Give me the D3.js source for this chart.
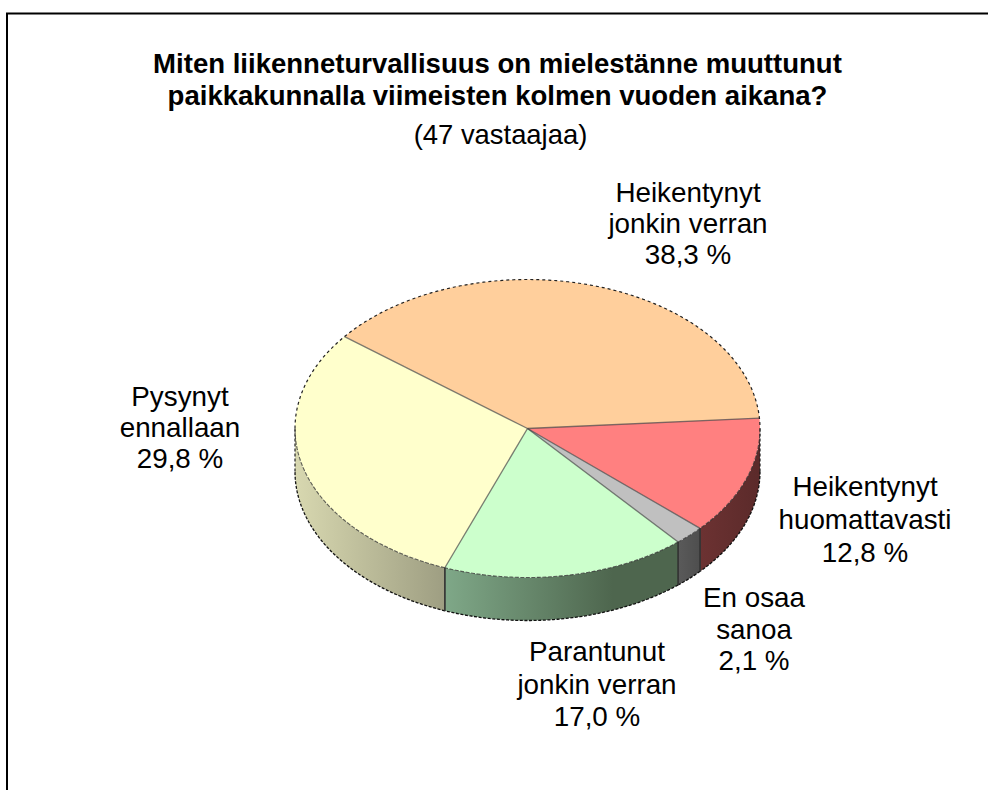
<!DOCTYPE html>
<html><head><meta charset="utf-8">
<script src="https://cdn.jsdelivr.net/npm/d3@7"></script>
<style>html,body{margin:0;padding:0;background:#fff}svg{display:block}text{font-family:"Liberation Sans",Arial,sans-serif;fill:#000}</style>
</head><body><div id="c"></div>
<script>
const categories = ["Heikentynyt jonkin verran","Heikentynyt huomattavasti","En osaa sanoa","Parantunut jonkin verran","Pysynyt ennallaan"];
const values = [38.3,12.8,2.1,17.0,29.8];
const valueLabels = ["38,3 %","12,8 %","2,1 %","17,0 %","29,8 %"];
const labelLines = [["Heikentynyt","jonkin verran"],["Heikentynyt","huomattavasti"],["En osaa","sanoa"],["Parantunut","jonkin verran"],["Pysynyt","ennallaan"]];
const topColors = ["#FFCF9C","#FF8080","#C0C0C0","#CCFFCC","#FFFFCC"];
const wallStops = [["#c9a37c","#c9a37c"],["#6c3232","#5b2a2a"],["#5a5a5a","#4e4e4e"],["#7fa888","#4e664e"],["#d8d8b0","#9e9e82"]];
const titleLines = ["Miten liikenneturvallisuus on mielestänne muuttunut","paikkakunnalla viimeisten kolmen vuoden aikana?"];
const subtitle = "(47 vastaajaa)";

const W=988,H=790, cx=527.5, cy=428.5, rx=232.5, ry=149, depth=43;
const labelAnchor = [[688,193,31],[865,487,33],[754,598,31.5],[597,652,32.5],[180,397,31]];

const svg=d3.select("#c").append("svg").attr("width",W).attr("height",H);
svg.append("path").attr("d",`M7,${H}V13.5H${W}`).attr("fill","none").attr("stroke","#000").attr("stroke-width",2);

const t=svg.append("g").attr("text-anchor","middle");
titleLines.forEach((s,i)=>t.append("text").attr("x",497.5).attr("y",73+i*32).attr("font-size",27.55).attr("font-weight","bold").text(s));
t.append("text").attr("x",500.5).attr("y",144).attr("font-size",27.4).text(subtitle);

const pie=d3.pie().sort(null).startAngle(-51.9*Math.PI/180).endAngle((360-51.9)*Math.PI/180);
const arcs=pie(values);
const sx=d3.scaleLinear().domain([-1,1]).range([cx-rx,cx+rx]);
const sy=d3.scaleLinear().domain([-1,1]).range([cy-ry,cy+ry]);
const px=a=>sx(Math.sin(a)), py=a=>sy(-Math.cos(a));
const line=d3.line();
const sample=(a0,a1)=>{const n=Math.max(2,Math.ceil((a1-a0)*60));return d3.range(n+1).map(i=>a0+(a1-a0)*i/n);};

const defs=svg.append("defs");
const walls=svg.append("g"), tops=svg.append("g"), edges=svg.append("g");

// Walls: only the front half (d3 angles PI/2..3PI/2) is visible.
arcs.forEach((d,i)=>{
  const a0=Math.max(d.startAngle,Math.PI/2), a1=Math.min(d.endAngle,3*Math.PI/2);
  if(a1<=a0) return;
  const ang=sample(a0,a1);
  const topE=ang.map(a=>[px(a),py(a)]), botE=ang.map(a=>[px(a),py(a)+depth]).reverse();
  const id="w"+i;
  const xs=topE.map(p=>p[0]);
  const g=defs.append("linearGradient").attr("id",id).attr("gradientUnits","userSpaceOnUse")
    .attr("x1",d3.min(xs)).attr("x2",d3.max(xs)).attr("y1",0).attr("y2",0);
  if(i===3){
    g.append("stop").attr("offset",0).attr("stop-color",wallStops[i][0]);
    g.append("stop").attr("offset",0.72).attr("stop-color",wallStops[i][1]);
    g.append("stop").attr("offset",1).attr("stop-color",wallStops[i][1]);
  } else {
    g.append("stop").attr("offset",0).attr("stop-color",wallStops[i][0]);
    g.append("stop").attr("offset",1).attr("stop-color",wallStops[i][1]);
  }
  walls.append("path").attr("d",line(topE.concat(botE))+"Z").attr("fill",`url(#${id})`);
  edges.append("path").attr("d",line(ang.map(a=>[px(a),py(a)+depth])))
    .attr("fill","none").attr("stroke","#111").attr("stroke-width",1.3).attr("stroke-dasharray","3 1.6");
  [a0,a1].forEach(a=>{ if(a>Math.PI/2+1e-6&&a<3*Math.PI/2-1e-6)
    edges.append("path").attr("d",line([[px(a),py(a)],[px(a),py(a)+depth]])).attr("stroke","#333").attr("stroke-width",1.2).attr("fill","none");});
  edges.append("path").attr("d",line(topE)).attr("fill","none").attr("stroke","#2c2c2c").attr("stroke-opacity",.75).attr("stroke-width",1.1).attr("stroke-dasharray","4 1.5");
});

// Top face
arcs.forEach((d,i)=>{
  const rim=sample(d.startAngle,d.endAngle).map(a=>[px(a),py(a)]);
  tops.append("path").attr("d",line([[cx,cy],...rim])+"Z").attr("fill",topColors[i]);
});
arcs.forEach(d=>{
  edges.append("path").attr("d",line([[cx,cy],[px(d.startAngle),py(d.startAngle)]]))
    .attr("fill","none").attr("stroke","#444").attr("stroke-opacity",.7).attr("stroke-width",1.3);
});
// Dotted back rim
const back=sample(3*Math.PI/2-2*Math.PI,Math.PI/2).map(a=>[px(a),py(a)]);
edges.append("path").attr("d",line(back)).attr("fill","none").attr("stroke","#222").attr("stroke-width",1.2).attr("stroke-dasharray","3 3");
// Ends of the body at the extreme sides
[Math.PI/2,3*Math.PI/2].forEach(a=>{
  edges.append("path").attr("d",line([[px(a),py(a)],[px(a),py(a)+depth]])).attr("fill","none").attr("stroke","#222").attr("stroke-width",1.2).attr("stroke-dasharray","3 2");
});

// Labels
const lab=svg.append("g").attr("text-anchor","middle").attr("font-size",27.8);
categories.forEach((c,i)=>{
  const [x,y,lh]=labelAnchor[i];
  labelLines[i].concat(valueLabels[i]).forEach((s,j)=>lab.append("text").attr("x",x).attr("y",y+9+j*lh).text(s));
});
</script></body></html>
